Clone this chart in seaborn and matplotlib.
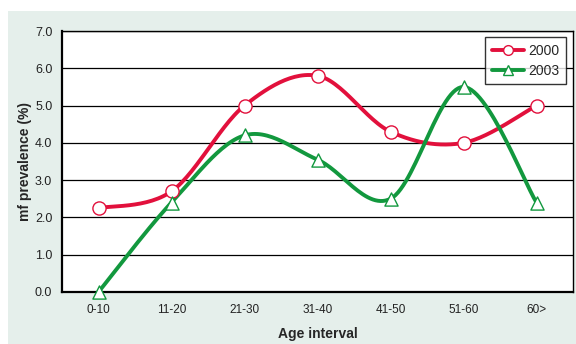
import numpy as np
import pandas as pd
import matplotlib
matplotlib.use("Agg")
import matplotlib.pyplot as plt
import seaborn as sns
from matplotlib.patches import Rectangle
from matplotlib.lines import Line2D

categories = ["0-10", "11-20", "21-30", "31-40", "41-50", "51-60", "60>"]
prev_2000 = [2.25, 2.7, 5.0, 5.8, 4.3, 4.0, 5.0]
prev_2003 = [0.0, 2.4, 4.2, 3.55, 2.5, 5.5, 2.4]
series_names = ["2000", "2003"]
y_ticks = [0.0, 1.0, 2.0, 3.0, 4.0, 5.0, 6.0, 7.0]

sns.set_theme(style="white")
plt.rcParams["font.family"] = ["Liberation Sans", "DejaVu Sans"]

RED = "#e2103c"
GREEN = "#12983e"


def smooth(y, n=30):
    """Excel-like Bezier smoothing through the data points."""
    x = np.arange(len(y), dtype=float)
    pts = np.column_stack([x, np.asarray(y, dtype=float)])
    out = []
    for i in range(len(pts) - 1):
        p0 = pts[i - 1] if i > 0 else pts[i]
        p1 = pts[i]
        p2 = pts[i + 1]
        p3 = pts[i + 2] if i + 2 < len(pts) else pts[i + 1]
        c1 = p1 + (p2 - p0) / 6.0
        c2 = p2 - (p3 - p1) / 6.0
        t = np.linspace(0, 1, n)[:, None]
        seg = ((1 - t) ** 3) * p1 + 3 * ((1 - t) ** 2) * t * c1 + 3 * (1 - t) * t ** 2 * c2 + t ** 3 * p2
        out.append(seg if i == 0 else seg[1:])
    arr = np.vstack(out)
    return arr[:, 0], arr[:, 1]


fig = plt.figure(figsize=(5.76, 3.44), dpi=100)
fig.patch.set_facecolor("white")
fig.patches.append(Rectangle((8 / 576, 0), 1, 1 - 11 / 344, transform=fig.transFigure,
                             facecolor="#e5efeb", edgecolor="none", zorder=-10))
ax = fig.add_axes([62 / 576, 1 - 292 / 344, (573 - 62) / 576, (292 - 31) / 344])
ax.set_zorder(2)
ax.set_facecolor("white")

x_idx = np.arange(len(categories))
for vals, color, marker, name in [(prev_2000, RED, "o", series_names[0]),
                                  (prev_2003, GREEN, "^", series_names[1])]:
    sx, sy = smooth(vals)
    sns.lineplot(x=sx, y=sy, ax=ax, color=color, linewidth=2.8, sort=False,
                 estimator=None, zorder=3)
    sns.scatterplot(x=x_idx, y=vals, ax=ax, marker=marker, s=90,
                    facecolor="white", edgecolor=color, linewidth=1.0, zorder=4,
                    clip_on=False)

ax.set_xlim(-0.5, len(categories) - 0.5)
ax.set_ylim(0, 7)
ax.set_yticks(y_ticks)
ax.set_yticklabels([f"{v:.1f}" for v in y_ticks], fontsize=9, color="#222222")
ax.set_xticks(x_idx)
ax.set_xticklabels(categories, fontsize=8.5, color="#222222")
ax.set_xticks(np.arange(len(categories) + 1) - 0.5, minor=True)
ax.tick_params(axis="x", which="major", length=0, pad=8.5)
ax.tick_params(axis="x", which="minor", length=4, width=1, color="black", direction="out")
ax.tick_params(axis="y", which="major", length=4, width=1, color="black", direction="out", pad=3)
for v in y_ticks[1:]:
    ax.axhline(v, color="black", linewidth=0.9, zorder=1)
for s in ax.spines.values():
    s.set_color("black")
    s.set_linewidth(1.0)
ax.spines["left"].set_linewidth(1.6)
ax.spines["bottom"].set_linewidth(1.6)

ax.set_xlabel("Age interval", fontsize=10, fontweight="bold", labelpad=8)
ax.set_ylabel("mf prevalence (%)", fontsize=10, fontweight="bold", labelpad=2)

handles = [Line2D([], [], color=RED, linewidth=2.8, marker="o", markersize=7,
                  markerfacecolor="white", markeredgecolor=RED),
           Line2D([], [], color=GREEN, linewidth=2.8, marker="^", markersize=7,
                  markerfacecolor="white", markeredgecolor=GREEN)]
leg = ax.legend(handles, series_names, loc="upper right", bbox_to_anchor=(0.986, 0.977),
                borderaxespad=0, fontsize=10, frameon=True, fancybox=False, handlelength=2.3,
                borderpad=0.5, labelspacing=0.4, handletextpad=0.3)
leg.get_frame().set_edgecolor("black")
leg.get_frame().set_linewidth(1.0)
leg.get_frame().set_facecolor("white")
leg.set_zorder(6)

fig.savefig("out.png", dpi=100)
